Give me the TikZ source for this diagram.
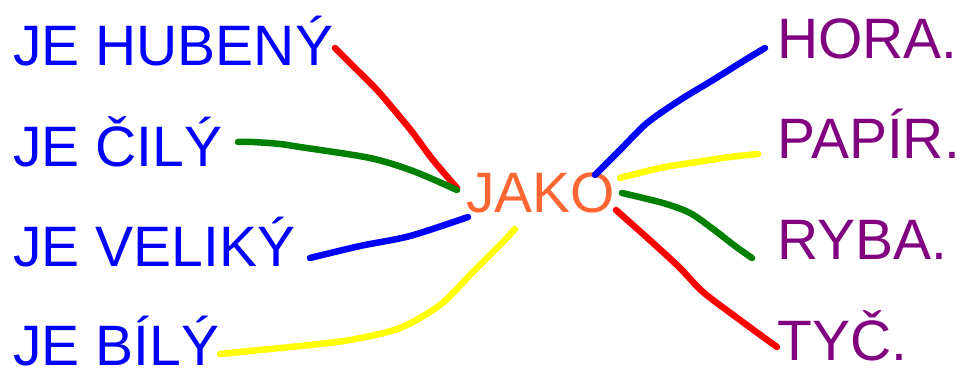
\documentclass[tikz,border=0pt]{standalone}
\usepackage{fontspec}
\setmainfont{Liberation Sans}
\usepackage{tikz}
\usetikzlibrary{positioning}
\definecolor{WordBlue}{RGB}{0,0,255}
\definecolor{SimilePurple}{RGB}{128,0,128}
\definecolor{JakoOrange}{RGB}{255,102,51}
\definecolor{PenRed}{RGB}{255,0,0}
\definecolor{PenGreen}{RGB}{0,128,0}
\definecolor{PenBlue}{RGB}{0,0,255}
\definecolor{PenYellow}{RGB}{255,255,0}
\begin{document}
\begin{tikzpicture}[
    x=1pt,y=-1pt,
    word/.style={
      anchor=base west,inner sep=0pt,
      font=\fontsize{57}{60}\selectfont
    },
    pen/.style={line width=6.5pt,line cap=round,line join=round}]
    \useasboundingbox (0,0) rectangle (965,370);
    % left column
    \node[word,text=WordBlue] (hubeny) at (13,65) {JE HUBENÝ};
    \node[word,text=WordBlue] (cily) at (13,166) {JE ČILÝ};
    \node[word,text=WordBlue] (veliky) at (13,266) {JE VELIKÝ};
    \node[word,text=WordBlue] (bily) at (13,365) {JE BÍLÝ};
    % middle
    \node[word,text=JakoOrange] (jako) at (466,212) {JAKO};
    % right column
    \node[word,text=SimilePurple] (hora) at (777,58) {HORA.};
    \node[word,text=SimilePurple] (papir) at (777,158) {PAPÍR.};
    \node[word,text=SimilePurple] (ryba) at (777,259) {RYBA.};
    \node[word,text=SimilePurple] (tyc) at (777,360) {TYČ.};
    % line ends
    \coordinate (hubenyEnd) at (335,48);
    \coordinate (cilyEnd) at (238,142);
    \coordinate (velikyEnd) at (310,258);
    \coordinate (bilyEnd) at (220,354);
    \coordinate (horaEnd) at (765,48);
    \coordinate (papirEnd) at (758,154);
    \coordinate (rybaEnd) at (752,258);
    \coordinate (tycEnd) at (777,347);
    \coordinate (jakoNW) at (457,188);
    \coordinate (jakoW) at (457,190);
    \coordinate (jakoSW) at (468,217);
    \coordinate (jakoS) at (515,229);
    \coordinate (jakoNE) at (595,175);
    \coordinate (jakoE) at (620,178);
    \coordinate (jakoSE) at (622,193);
    \coordinate (jakoSSE) at (616,210);
    % connectors
    \draw[pen,PenRed] plot[smooth,tension=0.5] coordinates {
      (hubenyEnd) (350,63) (377,90) (400,117) (413,133) (433,160) (jakoNW)};
    \draw[pen,PenGreen] plot[smooth,tension=0.5] coordinates {
      (cilyEnd) (253,142) (280,144) (300,147) (370,158) (413,171) (jakoW)};
    \draw[pen,PenBlue] plot[smooth,tension=0.5] coordinates {
      (velikyEnd) (360,246) (410,236) (jakoSW)};
    \draw[pen,PenYellow] plot[smooth,tension=0.5] coordinates {
      (bilyEnd) (260,350) (300,346) (350,340) (400,328) (440,305) (470,275)
      (500,245) (jakoS)};
    \draw[pen,PenBlue] plot[smooth,tension=0.5] coordinates {
      (jakoNE) (620,150) (647,123) (680,100) (713,80) (745,60) (horaEnd)};
    \draw[pen,PenYellow] plot[smooth,tension=0.5] coordinates {
      (jakoE) (660,168) (697,162) (730,157) (papirEnd)};
    \draw[pen,PenGreen] plot[smooth,tension=0.5] coordinates {
      (jakoSE) (663,203) (690,213) (713,229) (735,246) (rybaEnd)};
    \draw[pen,PenRed] plot[smooth,tension=0.5] coordinates {
      (jakoSSE) (653,243) (680,268) (703,292) (740,320) (tycEnd)};
  \end{tikzpicture}
\end{document}
